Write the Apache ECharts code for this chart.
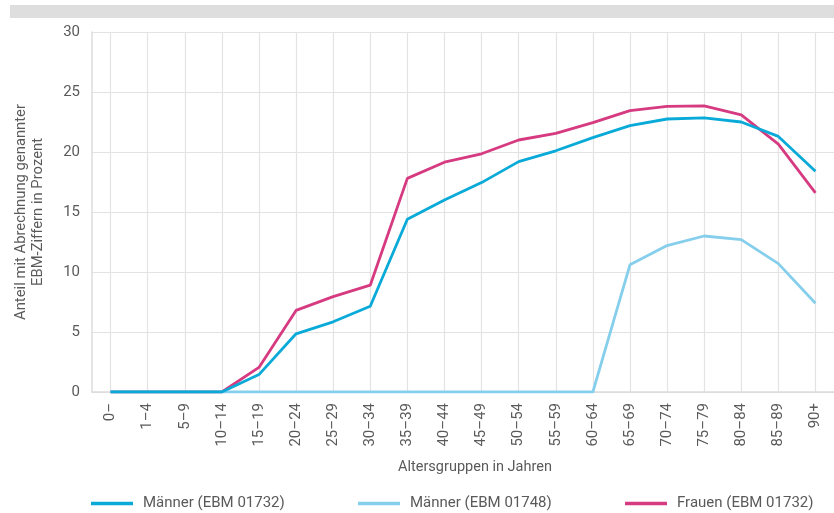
<!DOCTYPE html>
<html>
<head>
<meta charset="utf-8">
<script src="https://cdn.jsdelivr.net/npm/echarts@6/dist/echarts.min.js"></script>
<style>
  html, body { margin: 0; padding: 0; background: #ffffff; }
  #chart { width: 834px; height: 513px; }
</style>
</head>
<body>
<div id="chart"></div>
<script>
// Age groups (x axis)
const ageGroups = ['0–', '1–4', '5–9', '10–14', '15–19', '20–24', '25–29', '30–34', '35–39',
  '40–44', '45–49', '50–54', '55–59', '60–64', '65–69', '70–74', '75–79', '80–84', '85–89', '90+'];

// Share (%) of patients billed with the given EBM code
const maennerEbm01732 = [0, 0, 0, 0, 1.45, 4.85, 5.85, 7.15, 14.4, 16.0, 17.45, 19.2, 20.1, 21.2,
  22.2, 22.75, 22.85, 22.5, 21.3, 18.4];
const maennerEbm01748 = [0, 0, 0, 0, 0, 0, 0, 0, 0, 0, 0, 0, 0, 0,
  10.6, 12.2, 13.0, 12.7, 10.7, 7.4];
const frauenEbm01732 = [0, 0, 0, 0, 2.05, 6.8, 7.95, 8.9, 17.8, 19.15, 19.85, 21.0, 21.55, 22.45,
  23.45, 23.8, 23.85, 23.1, 20.65, 16.6];

const yTicks = [0, 5, 10, 15, 20, 25, 30];

const seriesNames = ['Männer (EBM 01732)', 'Männer (EBM 01748)', 'Frauen (EBM 01732)'];
const seriesColors = ['#0aaad8', '#86cfec', '#d63a80'];

const FONT = 'Roboto';
const TEXT = '#5a5a5a';

const chart = echarts.init(document.getElementById('chart'), null, { renderer: 'canvas' });

function legendAt(left, name) {
  return {
    left: left, top: 491,
    data: [name],
    icon: 'rect', itemWidth: 42, itemHeight: 3.5, itemGap: 0,
    textStyle: { color: TEXT, fontFamily: FONT, fontSize: 15, padding: [0, 0, 0, 5] },
    selectedMode: false
  };
}

chart.setOption({
  animation: false,
  backgroundColor: '#ffffff',
  graphic: [{
    type: 'rect', left: 10, top: 5, z: -1,
    shape: { width: 830, height: 13 },
    style: { fill: '#dedede' }
  }],
  legend: [
    legendAt(86, seriesNames[0]),
    legendAt(353, seriesNames[1]),
    legendAt(620, seriesNames[2])
  ],
  grid: { left: 92, right: -3, top: 32, bottom: 121, containLabel: false },
  xAxis: {
    type: 'category',
    data: ageGroups,
    boundaryGap: true,
    name: 'Altersgruppen in Jahren',
    nameLocation: 'middle',
    nameGap: 68,
    nameTextStyle: { color: TEXT, fontFamily: FONT, fontSize: 14.5, padding: [0, 0, 0, 24] },
    axisLine: { show: true, lineStyle: { color: '#dcdcdc', width: 1.5 } },
    axisTick: { show: false, alignWithLabel: true },
    axisLabel: { rotate: 90, color: TEXT, fontFamily: FONT, fontSize: 15, margin: 11, interval: 0 },
    splitLine: { show: true, alignWithLabel: true, interval: 0, lineStyle: { color: '#e3e3e3', width: 1.2 } }
  },
  yAxis: {
    type: 'value',
    min: yTicks[0], max: yTicks[yTicks.length - 1], interval: 5,
    name: 'Anteil mit Abrechnung genannter\nEBM-Ziffern in Prozent',
    nameLocation: 'middle',
    nameRotate: 90,
    nameGap: 45,
    nameTextStyle: { color: TEXT, fontFamily: FONT, fontSize: 14.8, lineHeight: 17 },
    axisLine: { show: true, lineStyle: { color: '#dcdcdc', width: 1.5 } },
    axisTick: { show: false },
    axisLabel: { color: TEXT, fontFamily: FONT, fontSize: 15, margin: 12 },
    splitLine: { show: true, lineStyle: { color: '#e3e3e3', width: 1.2 } }
  },
  series: [
    {
      name: seriesNames[2], type: 'line', data: frauenEbm01732, z: 2,
      symbol: 'none', color: seriesColors[2],
      lineStyle: { width: 2.8, color: seriesColors[2] }
    },
    {
      name: seriesNames[1], type: 'line', data: maennerEbm01748, z: 3,
      symbol: 'none', color: seriesColors[1],
      lineStyle: { width: 2.8, color: seriesColors[1] }
    },
    {
      name: seriesNames[0], type: 'line', data: maennerEbm01732, z: 4,
      symbol: 'none', color: seriesColors[0],
      lineStyle: { width: 2.8, color: seriesColors[0] }
    }
  ]
});
</script>
</body>
</html>
